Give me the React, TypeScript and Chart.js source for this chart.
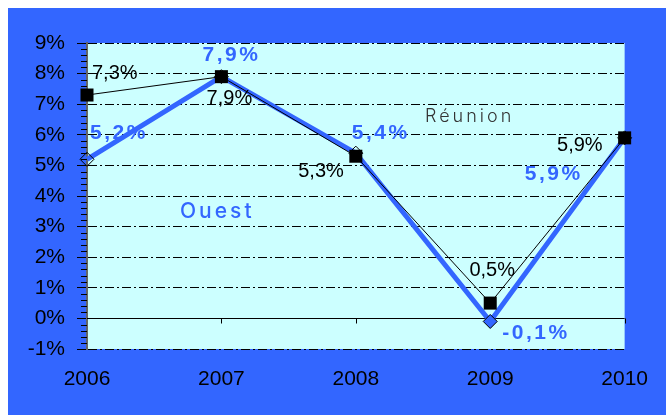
import React, { useEffect, useRef } from "react";
import { Chart, registerables } from "chart.js";

Chart.register(...registerables);

const years = ["2006", "2007", "2008", "2009", "2010"];
const reunionValues = [7.3, 7.9, 5.3, 0.5, 5.9];
const ouestValues = [5.2, 7.9, 5.4, -0.1, 5.9];
const yMin = -1;
const yMax = 9;

// label placement relative to each point: [dx, dy, align]
const reunionLabelPlace: [number, number, CanvasTextAlign][] = [
  [5, -22, "left"],
  [8, 22, "center"],
  [-12, 15, "right"],
  [2, -33, "center"],
  [-22, 8, "right"],
];
const ouestLabelPlace: [number, number, CanvasTextAlign][] = [
  [3, -26, "left"],
  [10, -21, "center"],
  [-4, -20, "left"],
  [12, 12, "left"],
  [-42, 36, "right"],
];

const BLUE = "#3366FF";
const PLOT_BG = "#CCFFFF";

const fmt = (v: number) => v.toFixed(1).replace(".", ",") + "%";

const decoPlugin = {
  id: "deco",
  beforeDraw(chart: any) {
    const { ctx, chartArea } = chart;
    ctx.save();
    ctx.fillStyle = PLOT_BG;
    ctx.fillRect(chartArea.left, chartArea.top, chartArea.right - chartArea.left, chartArea.bottom - chartArea.top);
    ctx.restore();
  },
  beforeDatasetsDraw(chart: any) {
    const { ctx, chartArea, scales } = chart;
    const y = scales.y;
    const x = scales.x;
    ctx.save();
    ctx.strokeStyle = "#000";
    ctx.lineWidth = 1;
    ctx.setLineDash([]);
    // minor ticks on y axis
    for (let i = yMin * 5; i <= yMax * 5; i++) {
      if (i % 5 === 0) continue;
      const py = Math.round(y.getPixelForValue(i / 5)) + 0.5;
      ctx.beginPath();
      ctx.moveTo(chartArea.left - 6, py);
      ctx.lineTo(chartArea.left, py);
      ctx.stroke();
    }
    // solid zero line
    const y0 = Math.round(y.getPixelForValue(0)) + 0.5;
    ctx.beginPath();
    ctx.moveTo(chartArea.left, y0);
    ctx.lineTo(chartArea.right, y0);
    ctx.stroke();
    // x ticks at zero line
    for (let i = 1; i < years.length; i++) {
      const px = Math.round(x.getPixelForValue(i)) + 0.5;
      ctx.beginPath();
      ctx.moveTo(px, y0);
      ctx.lineTo(px, y0 + 5);
      ctx.stroke();
    }
    ctx.restore();
  },
  afterDatasetsDraw(chart: any) {
    const { ctx } = chart;
    ctx.save();
    ctx.textBaseline = "middle";
    const m0 = chart.getDatasetMeta(0);
    ctx.font = "20px 'Liberation Sans'";
    ctx.fillStyle = "#000";
    m0.data.forEach((pt: any, i: number) => {
      const [dx, dy, al] = reunionLabelPlace[i];
      ctx.textAlign = al;
      ctx.fillText(fmt(reunionValues[i]), pt.x + dx, pt.y + dy);
    });
    const m1 = chart.getDatasetMeta(1);
    ctx.font = "bold 21px 'Liberation Sans'";
    (ctx as any).letterSpacing = "2.5px";
    ctx.fillStyle = BLUE;
    m1.data.forEach((pt: any, i: number) => {
      const [dx, dy, al] = ouestLabelPlace[i];
      ctx.textAlign = al;
      ctx.fillText(fmt(ouestValues[i]), pt.x + dx, pt.y + dy);
    });
    // series names
    ctx.textAlign = "left";
    ctx.font = "300 18px Inter";
    (ctx as any).letterSpacing = "3px";
    ctx.fillStyle = "#333";
    ctx.fillText("Réunion", 417, 109);
    ctx.font = "500 21px Inter";
    ctx.fillStyle = BLUE;
    ctx.fillText("Ouest", 172, 204);
    (ctx as any).letterSpacing = "0px";
    ctx.restore();
  },
};

export default function App() {
  const ref = useRef<HTMLCanvasElement>(null);
  useEffect(() => {
    if (!ref.current) return;
    const chart = new Chart(ref.current, {
      type: "line",
      data: {
        labels: years,
        datasets: [
          {
            label: "Réunion",
            data: reunionValues,
            borderColor: "#000",
            borderWidth: 1,
            pointStyle: "rect",
            pointRadius: 9.2,
            pointBackgroundColor: "#000",
            pointBorderColor: "#000",
            pointBorderWidth: 0,
            tension: 0,
            clip: false,
          },
          {
            label: "Ouest",
            data: ouestValues,
            borderColor: BLUE,
            borderWidth: 5,
            pointStyle: "rectRot",
            pointRadius: 7,
            pointBackgroundColor: ["rgba(0,0,0,0)", "rgba(0,0,0,0)", "rgba(0,0,0,0)", BLUE, "rgba(0,0,0,0)"],
            pointBorderColor: "#000",
            pointBorderWidth: 1,
            tension: 0,
            clip: false,
          },
        ],
      },
      options: {
        responsive: false,
        animation: false,
        layout: { padding: { left: 0, top: 35, right: 39, bottom: 0 } },
        plugins: { legend: { display: false }, tooltip: { enabled: false } },
        scales: {
          x: {
            offset: false,
            grid: { display: false, drawTicks: false, tickLength: 0 },
            border: { display: false },
            ticks: {
              color: "#000",
              font: { family: "'Liberation Sans'", size: 21 },
              padding: 18,
              maxRotation: 0,
              autoSkip: false,
            },
            afterFit(scale: any) {
              scale.height = 66;
            },
          },
          y: {
            min: yMin,
            max: yMax,
            grid: {
              color: "#000",
              lineWidth: 1,
              tickBorderDash: [],
              tickColor: "#000",
              tickLength: 10,
              drawTicks: true,
            },
            border: { display: true, color: "#666", width: 2, dash: [9, 3, 2, 3] },
            ticks: {
              stepSize: 1,
              color: "#000",
              padding: 12,
              font: { family: "'Liberation Sans'", size: 21 },
              callback: (v: any) => v + "%",
            },
            afterFit(scale: any) {
              scale.width = 79;
            },
          },
        },
      },
      plugins: [decoPlugin],
    });
    return () => chart.destroy();
  }, []);
  return (
    <div style={{ position: "absolute", left: 8, top: 8, width: 658, height: 407 }}>
      <canvas
        ref={ref}
        width={658}
        height={407}
        style={{ display: "block", width: 658, height: 407, background: BLUE }}
      />
    </div>
  );
}
